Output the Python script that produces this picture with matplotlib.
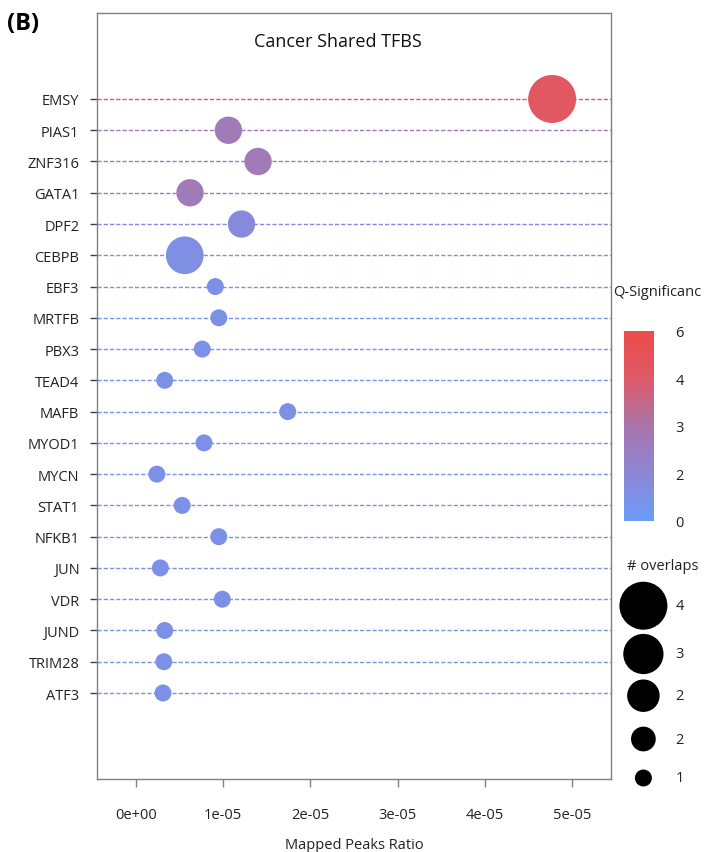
import numpy as np
import matplotlib.pyplot as plt
from matplotlib.colors import LinearSegmentedColormap, FuncNorm
from matplotlib.cm import ScalarMappable

plt.rcParams['font.family'] = ['Open Sans', 'DejaVu Sans']

tfs = ['EMSY', 'PIAS1', 'ZNF316', 'GATA1', 'DPF2', 'CEBPB', 'EBF3', 'MRTFB',
       'PBX3', 'TEAD4', 'MAFB', 'MYOD1', 'MYCN', 'STAT1', 'NFKB1', 'JUN',
       'VDR', 'JUND', 'TRIM28', 'ATF3']
peak_ratio = [4.77e-5, 1.06e-5, 1.40e-5, 0.62e-5, 1.21e-5, 0.56e-5, 0.91e-5,
              0.95e-5, 0.76e-5, 0.33e-5, 1.74e-5, 0.78e-5, 0.24e-5, 0.53e-5,
              0.95e-5, 0.28e-5, 0.99e-5, 0.33e-5, 0.32e-5, 0.31e-5]
overlaps = [4, 2, 2, 2, 2, 3, 1, 1, 1, 1, 1, 1, 1, 1, 1, 1, 1, 1, 1, 1]
q_sig = [4.4, 2.7, 2.7, 2.7, 1.6, 1.2, 1.0, 1.0, 1.0, 1.0, 1.0, 1.0, 1.0,
         1.0, 1.0, 1.0, 1.0, 1.0, 1.0, 1.0]

q_breaks = [0, 2, 3, 4, 6]
size_breaks = [4, 3.25, 2.5, 1.75, 1]
size_labels = ['4', '3', '2', '2', '1']

cmap = LinearSegmentedColormap.from_list(
    'qsig', ['#6a9cf8', '#8e86d4', '#aa74ab', '#de5a68', '#ec4b4b'])
pos = np.linspace(0, 1, len(q_breaks))
norm = FuncNorm((lambda v: np.interp(v, q_breaks, pos),
                 lambda t: np.interp(t, pos, q_breaks)), vmin=0, vmax=6)

FS = 10.5
TXT = '#222222'


def marker_area(v):
    # diameter in pixels grows linearly with the overlap count
    d_px = 17 + (np.asarray(v, dtype=float) - 1) * 10.33
    return (d_px * 72 / 100) ** 2


fig = plt.figure(figsize=(7.06, 8.53), dpi=100)
ax = fig.add_axes([0.138, 0.0856, 0.728, 0.898])

y = np.arange(len(tfs))
colors = cmap(norm(np.array(q_sig)))
for yi, c in zip(y, colors):
    ax.axhline(yi, color=c, lw=1.0, ls=(0, (3, 1.5)), zorder=1)
ax.scatter(peak_ratio, y, s=marker_area(overlaps), c=colors,
           edgecolors='none', zorder=3)

ax.set_xlim(-0.441e-5, 5.449e-5)
ax.set_ylim(21.75, -2.75)
ax.set_yticks(y)
ax.set_yticklabels(tfs)
ax.set_xticks([0, 1e-5, 2e-5, 3e-5, 4e-5, 5e-5])
ax.set_xticklabels(['0e+00', '1e-05', '2e-05', '3e-05', '4e-05', '5e-05'])
ax.tick_params(axis='x', length=6, width=1, color='#808080', pad=14,
               labelsize=FS, labelcolor=TXT)
ax.tick_params(axis='y', length=5, width=1, color='#404040', pad=8,
               labelsize=FS, labelcolor=TXT)
for sp in ax.spines.values():
    sp.set_color('#808080')
    sp.set_linewidth(1)
ax.set_xlabel('Mapped Peaks Ratio', fontsize=FS, color=TXT, labelpad=11)
ax.text(0.468, 0.964, 'Cancer Shared TFBS', transform=ax.transAxes,
        ha='center', va='center', fontsize=13, color='#111111')

fig.text(0.01, 0.972, '(B)', fontsize=17, fontweight='bold', ha='left',
         va='center')

# colour legend
fig.text(0.869, 0.657, 'Q-Significanc', fontsize=FS, ha='left', va='center',
         color=TXT)
cax = fig.add_axes([0.884, 0.3885, 0.043, 0.2225])
cb = fig.colorbar(ScalarMappable(norm=norm, cmap=cmap), cax=cax)
cb.outline.set_visible(False)
cb.set_ticks(q_breaks)
cb.set_ticklabels([str(b) for b in q_breaks])
cax.tick_params(length=0, pad=15, labelsize=FS, labelcolor=TXT)

# size legend, laid out in figure pixels measured from the top edge
fig.text(0.888, 0.336, '# overlaps', fontsize=FS, ha='left', va='center',
         color=TXT)
lax = fig.add_axes([0.866, 0.06, 0.134, 0.26])
lax.set_xlim(0, 94.6)
lax.set_ylim(853 * (1 - 0.06), 853 * (1 - 0.32))
leg_y = [606.7, 655, 696.7, 740, 779]
lax.scatter([32] * len(size_breaks), leg_y, s=marker_area(size_breaks),
            c='black', edgecolors='none')
for yy, lab in zip(leg_y, size_labels):
    lax.text(64, yy, lab, fontsize=FS, ha='left', va='center', color=TXT)
lax.axis('off')

fig.savefig('out.png', dpi=100)
